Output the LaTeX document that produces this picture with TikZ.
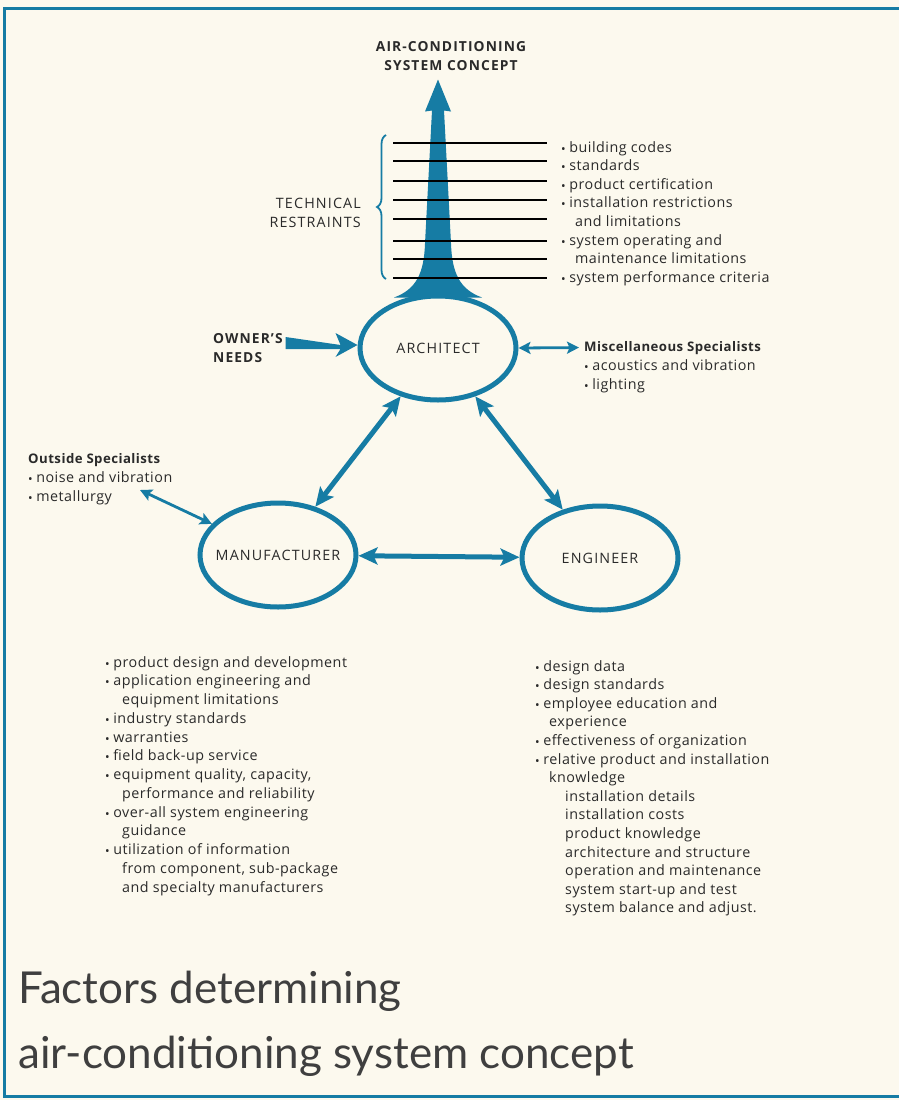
\documentclass[tikz,border=0pt]{standalone}
\usepackage{fontspec}
\setmainfont{Open Sans}[LetterSpace=3.5]
\newfontfamily\titlefont{Lato}
\usepackage{graphicx}
\usetikzlibrary{shapes.geometric,arrows.meta,positioning,decorations.pathreplacing}

\definecolor{acblue}{RGB}{22,124,164}
\definecolor{paper}{RGB}{252,249,238}
\definecolor{ink}{RGB}{42,42,42}
\newcommand{\bul}{\raisebox{-.15ex}{\scalebox{.85}{\textbullet}}\hspace{.25em}}
\newcommand{\capsp}{\addfontfeature{LetterSpace=8}}

\begin{document}
\begin{tikzpicture}[x=1pt, y=-1pt,
  party/.style={ellipse, draw=acblue, line width=5pt, minimum width=156pt,
                minimum height=104pt, inner sep=0pt,
                label={[font=\fontsize{14.3}{16}\selectfont\capsp, text=ink]center:#1}},
  link/.style={acblue, line width=5pt,
               {Stealth[length=19pt,width=17pt,inset=4pt]}-{Stealth[length=19pt,width=17pt,inset=4pt]}},
  thinlink/.style={acblue, line width=2.8pt,
               {Stealth[length=12pt,width=12pt,inset=2.5pt]}-{Stealth[length=12pt,width=12pt,inset=2.5pt]}},
  txt/.style={font=\fontsize{14.3}{18.7}\selectfont, text=ink, inner sep=0pt, anchor=base west},
  hd/.style={font=\bfseries\fontsize{13.2}{18.4}\selectfont, text=ink, inner sep=0pt, align=left},
  ]

  %--- page and frame
  \useasboundingbox (0,0) rectangle (899,1100);
  \fill[paper] (0,0) rectangle (899,1100);
  \draw[acblue, line width=3pt] (899,8) -- (4,8) -- (4,1096) -- (899,1096);

  %--- the three parties
  \node[party=ARCHITECT]    (arch) at (438,348) {};
  \node[party=MANUFACTURER] (manu) at (278,555) {};
  \node[party=ENGINEER]     (engr) at (600,558) {};

  \draw[link] (arch) -- (manu);
  \draw[link] (arch) -- (engr);
  \draw[link] (manu) -- (engr);

  %--- main arrow to the system concept
  \fill[acblue, shift={(arch.north)}]
    (-44,4) .. controls (-22,-4) and (-14,-20) .. (-13,-50)
    -- (-6,-183) -- (-13,-182) -- (0,-214) -- (13,-182) -- (6,-183)
    -- (13,-50) .. controls (14,-20) and (22,-4) .. (44,4) -- cycle;
  \node[hd, align=center, anchor=base, font=\bfseries\fontsize{13.8}{18.4}\selectfont\capsp]
    (concept) at (451,70) {AIR-CONDITIONING\\SYSTEM CONCEPT};

  %--- technical restraints
  \foreach \y in {143,161,181,200,219,241,259,278}
    \draw[black, line width=1.1pt] (393,\y) -- (547,\y);
  \draw[acblue, line width=1.8pt, decorate, decoration={brace, amplitude=9pt}]
    (386,279) -- (386,135);
  \node[txt, anchor=base east, align=right, font=\fontsize{14.3}{18.7}\selectfont\capsp]
    (restr) at (361,227) {TECHNICAL\\RESTRAINTS};
  \foreach \dx/\t [count=\i] in {0/{\bul building codes}, 0/{\bul standards},
      0/{\bul product certification}, 0/{\bul installation restrictions},
      14/{and limitations}, 0/{\bul system operating and},
      14/{maintenance limitations}, 0/{\bul system performance criteria}}
    \node[txt] (tr-\i) at (561+\dx,152+18.6*\i-18.6) {\t};

  %--- owner's needs
  \node[hd, anchor=base west, font=\bfseries\fontsize{13.8}{18.4}\selectfont\capsp]
    (owner) at (213,362) {OWNER'S\\NEEDS};
  \fill[acblue, shift={(arch.west)}]
    (0,-3) -- (-22,-15) -- (-17,-3) -- (-72,-11) -- (-72,1) -- (-17,1)
    -- (-22,9) -- cycle;

  %--- miscellaneous specialists
  \node[hd, anchor=base west] (misc) at (584,351) {Miscellaneous Specialists};
  \node[txt] (misc-1) at (584,370) {\bul acoustics and vibration};
  \node[txt] (misc-2) at (584,389) {\bul lighting};
  \draw[thinlink] (arch.east) -- ([xshift=-5pt]misc.west);

  %--- outside specialists
  \node[hd, anchor=base west] (outs) at (28,463) {Outside Specialists};
  \node[txt] (outs-1) at (28,482) {\bul noise and vibration};
  \node[txt] (outs-2) at (28,501) {\bul metallurgy};
  \coordinate (outs-end) at (140,490);
  \draw[thinlink] (outs-end) -- (manu);

  %--- manufacturer factors
  \foreach \dx/\t [count=\i] in {0/{\bul product design and development},
      0/{\bul application engineering and}, 17/{equipment limitations},
      0/{\bul industry standards}, 0/{\bul warranties},
      0/{\bul field back-up service}, 0/{\bul equipment quality, capacity,},
      17/{performance and reliability}, 0/{\bul over-all system engineering},
      17/{guidance}, 0/{\bul utilization of information},
      17/{from component, sub-package}, 17/{and specialty manufacturers}}
    \node[txt] (mf-\i) at (105+\dx,667+18.75*\i-18.75) {\t};

  %--- engineer factors
  \foreach \dx/\t [count=\i] in {0/{\bul design data}, 0/{\bul design standards},
      0/{\bul employee education and}, 14/{experience},
      0/{\bul effectiveness of organization},
      0/{\bul relative product and installation}, 14/{knowledge},
      30/{installation details}, 30/{installation costs},
      30/{product knowledge}, 30/{architecture and structure},
      30/{operation and maintenance}, 30/{system start-up and test},
      30/{system balance and adjust.}}
    \node[txt] (en-\i) at (535+\dx,671+18.6*\i-18.6) {\t};

  %--- title
  \node[anchor=base west, inner sep=0pt, text=ink!90,
        font=\titlefont\fontsize{44}{50}\selectfont] (title-1) at (18,1003) {Factors determining};
  \node[anchor=base west, inner sep=0pt, text=ink!90,
        font=\titlefont\fontsize{44}{50}\selectfont] (title-2) at (18,1068) {air-conditioning system concept};

\end{tikzpicture}
\end{document}
